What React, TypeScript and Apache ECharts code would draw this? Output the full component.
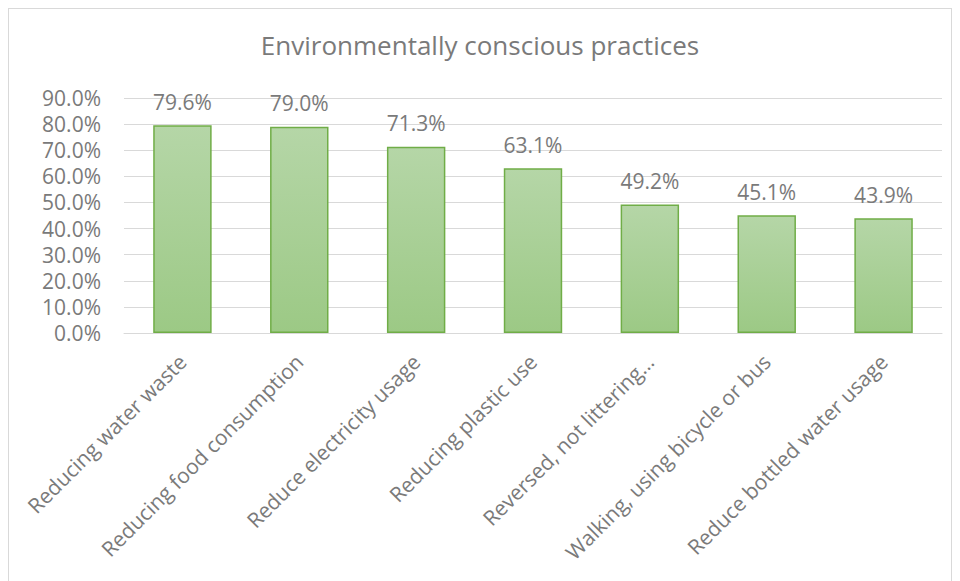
import React, { useEffect, useRef } from "react";
import * as echarts from "echarts";

const categories = [
  "Reducing water waste",
  "Reducing food consumption",
  "Reduce electricity usage",
  "Reducing plastic use",
  "Reversed, not littering…",
  "Walking, using bicycle or bus",
  "Reduce bottled water usage",
];
const values = [79.6, 79.0, 71.3, 63.1, 49.2, 45.1, 43.9];
const titleText = "Environmentally conscious practices";

const FONT = "'Open Sans', sans-serif";
const GRAY = "#7a7a7a";

export default function App() {
  const ref = useRef<HTMLDivElement>(null);
  useEffect(() => {
    if (!ref.current) return;
    const chart = echarts.init(ref.current, null, { renderer: "svg" });
    chart.setOption({
      animation: false,
      backgroundColor: "#ffffff",
      title: {
        text: titleText,
        left: "center",
        top: 18,
        textStyle: { fontFamily: FONT, fontSize: 26, fontWeight: "normal", color: GRAY },
      },
      grid: { left: 115, right: 9, top: 89, bottom: 249, containLabel: false },
      xAxis: {
        type: "category",
        data: categories,
        axisLine: { show: true, lineStyle: { color: "#d9d9d9", width: 1 } },
        axisTick: { show: false },
        axisLabel: {
          rotate: 45,
          interval: 0,
          margin: 25,
          fontFamily: FONT,
          fontSize: 21,
          color: GRAY,
        },
      },
      yAxis: {
        type: "value",
        min: 0,
        max: 90,
        interval: 10,
        axisLine: { show: false },
        axisTick: { show: false },
        splitLine: { lineStyle: { color: "#d9d9d9", width: 1 } },
        axisLabel: {
          margin: 23,
          fontFamily: FONT,
          fontSize: 21,
          color: GRAY,
          formatter: (v: number) => v.toFixed(1) + "%",
        },
      },
      series: [
        {
          type: "bar",
          data: values,
          barWidth: "50%",
          itemStyle: {
            color: new echarts.graphic.LinearGradient(0, 0, 0, 1, [
              { offset: 0, color: "#b5d6a7" },
              { offset: 1, color: "#9cc985" },
            ]),
            borderColor: "#70ad47",
            borderWidth: 1.5,
          },
          label: {
            show: true,
            position: "top",
            distance: 13,
            fontFamily: FONT,
            fontSize: 21,
            color: GRAY,
            formatter: (p: any) => p.value.toFixed(1) + "%",
          },
        },
      ],
    });
    return () => chart.dispose();
  }, []);
  return (
    <div
      style={{
        width: 942,
        height: 573,
        borderTop: "1px solid #d9d9d9",
        borderLeft: "1px solid #d9d9d9",
        borderRight: "1px solid #d9d9d9",
      }}
    >
      <div ref={ref} style={{ width: 942, height: 573 }} />
    </div>
  );
}
